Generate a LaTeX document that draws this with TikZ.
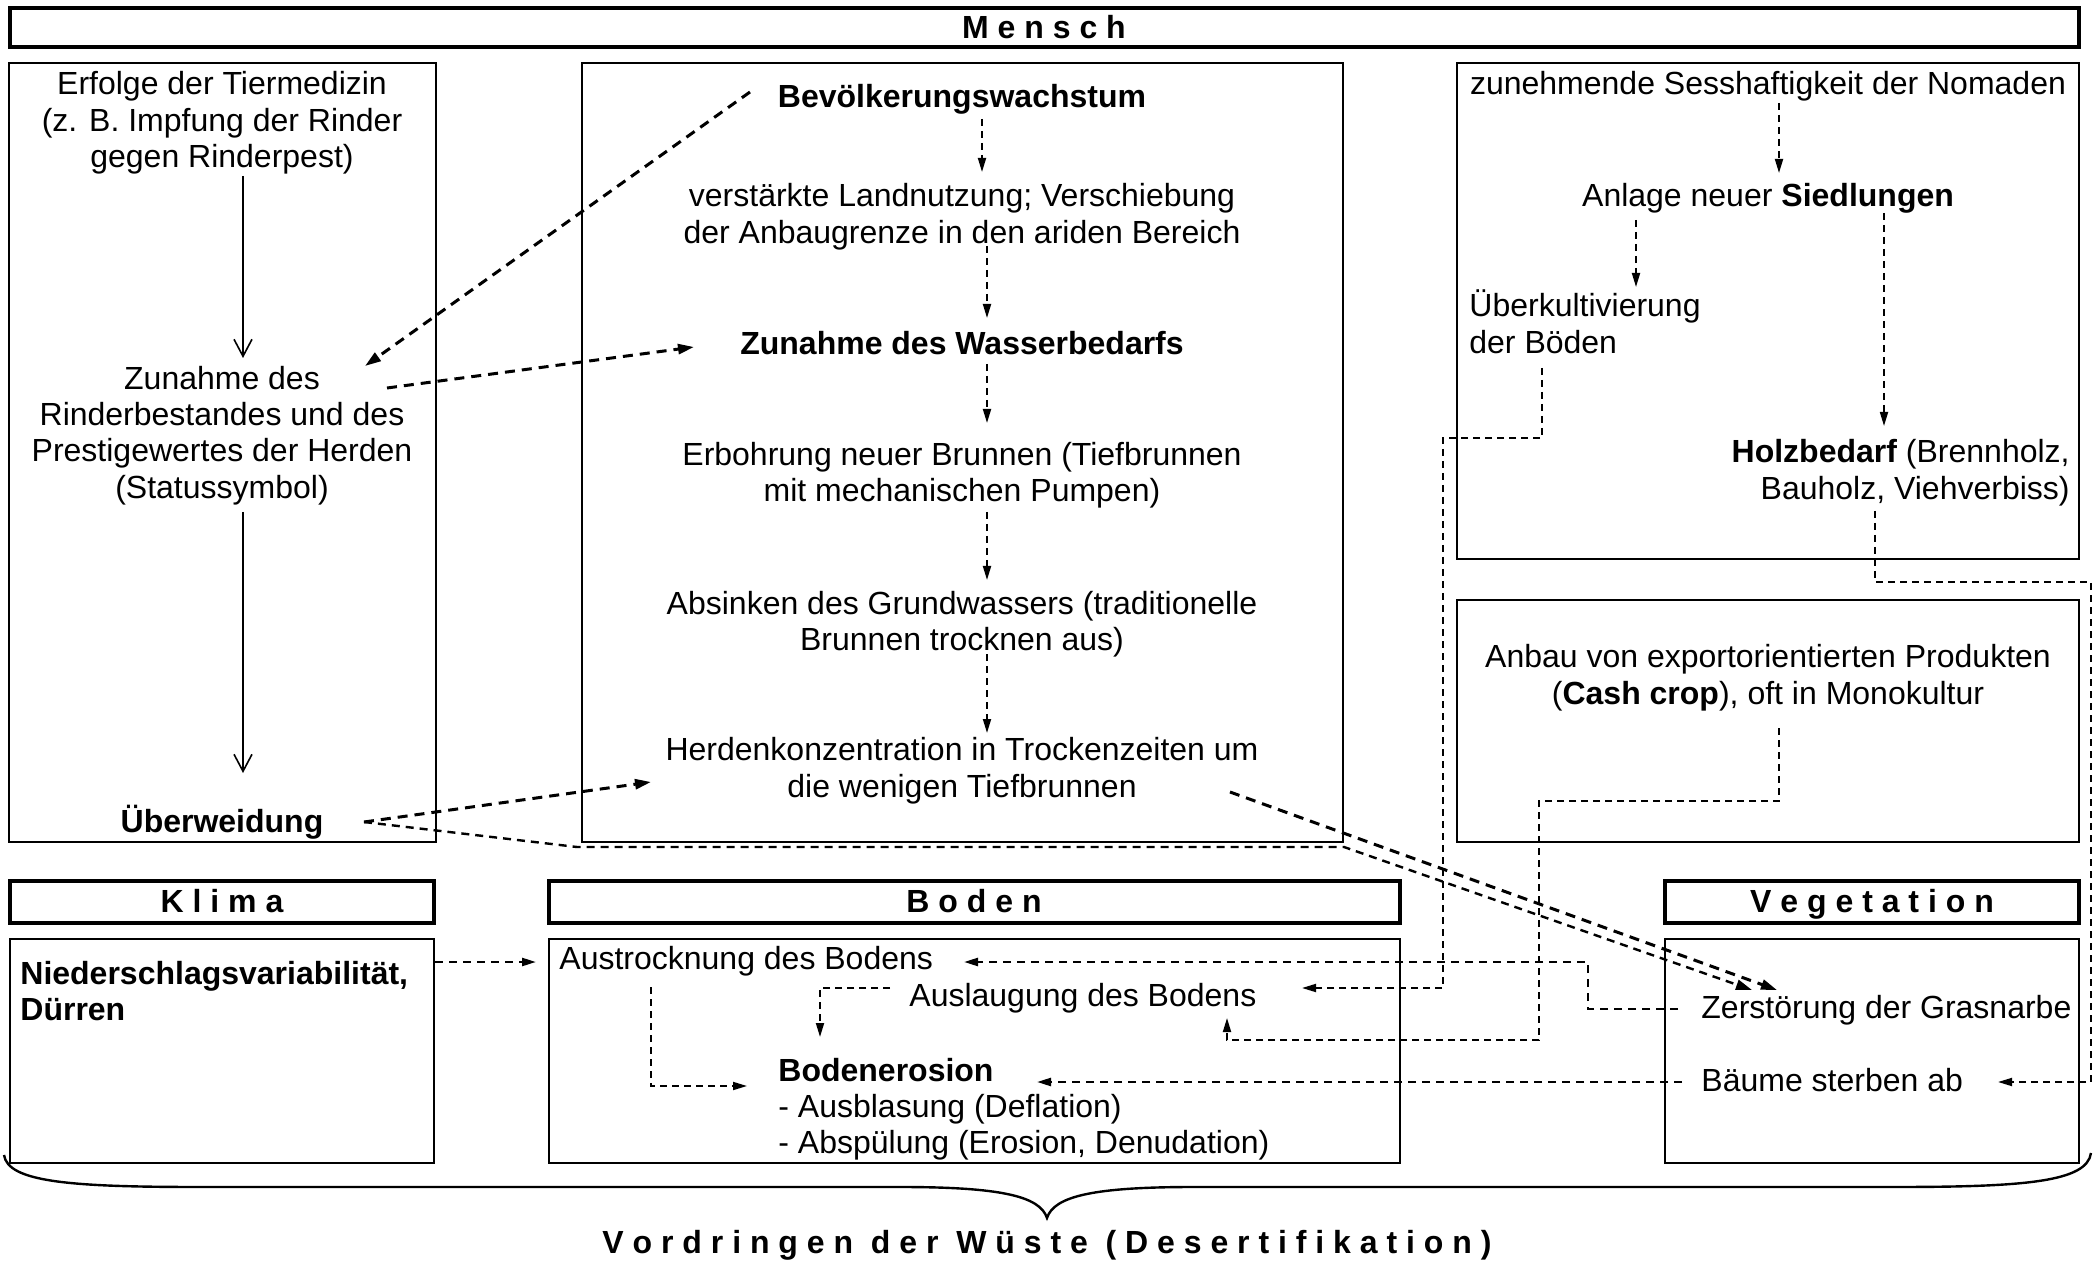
\documentclass[tikz,border=0pt]{standalone}
\usepackage{fontspec}
\setmainfont{Liberation Sans}
\usetikzlibrary{arrows.meta,fit}
\newcommand\fs{\fontsize{16pt}{18.5pt}\selectfont}
\begin{document}
\begin{tikzpicture}[x=0.5pt,y=-0.5pt,
  txt/.style={inner sep=0pt,anchor=base,font=\fs},
  txl/.style={txt,anchor=base west},
  txr/.style={txt,anchor=base east},
  hd/.style={inner sep=0pt,anchor=base,font=\fs\bfseries},
  hdrbox/.style={draw,line width=2pt,inner sep=0pt},
  cbox/.style={draw,line width=1.2pt,inner sep=0pt},
  sarr/.style={line width=0.8pt,-{Straight Barb[length=8.5pt,width=9pt,line width=0.8pt]}},
  dA/.style={line width=0.9pt,dash pattern=on 3.5pt off 2.5pt},
  dB/.style={line width=1.2pt,dash pattern=on 4pt off 3pt},
  dC/.style={line width=1.5pt,dash pattern=on 5pt off 3.5pt},
  tS/.style={-{Triangle[length=7pt,width=4pt]}},
  tB/.style={-{Triangle[length=8pt,width=5pt]}},
  brace/.style={line width=1.2pt}
]
\useasboundingbox (0,0) rectangle (2100,1262);
\fill[white] (0,0) rectangle (2100,1262);

% ---------- boxes ----------
\node[hdrbox,fit={(10,8)(2079,47)}] (hMensch) {};
\node[cbox,fit={(9,63)(436,842)}] (bLeft) {};
\node[cbox,fit={(582,63)(1343,842)}] (bMid) {};
\node[cbox,fit={(1457,63)(2079,559)}] (bRight) {};
\node[cbox,fit={(1457,600)(2079,842)}] (bCash) {};
\node[hdrbox,fit={(10,881)(434,923)}] (hKlima) {};
\node[hdrbox,fit={(549,881)(1400,923)}] (hBoden) {};
\node[hdrbox,fit={(1665,881)(2079,923)}] (hVeg) {};
\node[cbox,fit={(10,939)(434,1163)}] (bKlima) {};
\node[cbox,fit={(549,939)(1400,1163)}] (bBoden) {};
\node[cbox,fit={(1665,939)(2079,1163)}] (bVeg) {};

% ---------- header texts ----------
\node[hd] (tMensch) at (1044,39) {M e n s c h};
\node[hd] (tKlima) at (222,912) {K l i m a};
\node[hd] (tBoden) at (974,912) {B o d e n};
\node[hd] (tVeg) at (1872,912) {V e g e t a t i o n};
\node[hd] (tWueste) at (1047,1253) {V o r d r i n g e n\ \ d e r\ \ W ü s t e\ \ ( D e s e r t i f i k a t i o n )};

% ---------- left column ----------
\node[txt] (erf1) at (222,95) {Erfolge der Tiermedizin};
\node[txt] (erf2) at (222,131.5) {(z. B. Impfung der Rinder};
\node[txt] (erf3) at (222,168) {gegen Rinderpest)};
\node[txt] (zun1) at (222,390) {Zunahme des};
\node[txt] (zun2) at (222,426) {Rinderbestandes und des};
\node[txt] (zun3) at (222,462) {Prestigewertes der Herden};
\node[txt] (zun4) at (222,499) {(Statussymbol)};
\node[txt] (ueb) at (222,832) {\bfseries Überweidung};

% ---------- middle column ----------
\node[txt] (bev) at (962,108) {\bfseries Bevölkerungswachstum};
\node[txt] (lan1) at (962,207) {verstärkte Landnutzung; Verschiebung};
\node[txt] (lan2) at (962,244) {der Anbaugrenze in den ariden Bereich};
\node[txt] (was) at (962,355) {\bfseries Zunahme des Wasserbedarfs};
\node[txt] (erb1) at (962,466) {Erbohrung neuer Brunnen (Tiefbrunnen};
\node[txt] (erb2) at (962,502) {mit mechanischen Pumpen)};
\node[txt] (abs1) at (962,614) {Absinken des Grundwassers (traditionelle};
\node[txt] (abs2) at (962,650) {Brunnen trocknen aus)};
\node[txt] (her1) at (962,760) {Herdenkonzentration in Trockenzeiten um};
\node[txt] (her2) at (962,797) {die wenigen Tiefbrunnen};

% ---------- right column ----------
\node[txt] (ses) at (1768,95) {zunehmende Sesshaftigkeit der Nomaden};
\node[txt] (anl) at (1768,207) {Anlage neuer \textbf{Siedlungen}};
\node[txl] (ubk1) at (1469,317) {Überkultivierung};
\node[txl] (ubk2) at (1469,354) {der Böden};
\node[txr] (holz1) at (2070,463) {\textbf{Holzbedarf} (Brennholz,};
\node[txr] (holz2) at (2070,500) {Bauholz, Viehverbiss)};
\node[txt] (cash1) at (1768,667) {Anbau von exportorientierten Produkten};
\node[txt] (cash2) at (1768,704) {(\textbf{Cash crop}), oft in Monokultur};

% ---------- bottom row ----------
\node[txl] (nied1) at (20,984) {\bfseries Niederschlagsvariabilität,};
\node[txl] (nied2) at (20,1020) {\bfseries Dürren};
\node[txl] (aus) at (559,969) {Austrocknung des Bodens};
\node[txl] (lau) at (909,1006) {Auslaugung des Bodens};
\node[txl] (ero) at (778,1081) {\bfseries Bodenerosion};
\node[txl] (ero2) at (778,1117) {- Ausblasung (Deflation)};
\node[txl] (ero3) at (778,1153) {- Abspülung (Erosion, Denudation)};
\node[txl] (zer) at (1701,1018) {Zerstörung der Grasnarbe};
\node[txl] (bae) at (1701,1091) {Bäume sterben ab};

% ---------- connector end points ----------
\coordinate (s1a) at (243,176);  \coordinate (s1b) at (243,358);
\coordinate (s2a) at (243,512);  \coordinate (s2b) at (243,773);
\coordinate (bevL) at (750,92);  \coordinate (zunT) at (365,366);
\coordinate (zunR) at (387,388); \coordinate (wasL) at (694,347);
\coordinate (m1a) at (982,119);  \coordinate (m1b) at (982,172);
\coordinate (m2a) at (987,246);  \coordinate (m2b) at (987,318);
\coordinate (m3a) at (987,364);  \coordinate (m3b) at (987,423);
\coordinate (m4a) at (987,512);  \coordinate (m4b) at (987,580);
\coordinate (m5a) at (987,654);  \coordinate (m5b) at (987,733);
\coordinate (uebR) at (364,822); \coordinate (herL) at (651,782);
\coordinate (u1) at (577,847);   \coordinate (u2) at (1344,847);
\coordinate (zerT1) at (1752,990);
\coordinate (herR) at (1230,792); \coordinate (zerT2) at (1777,990);
\coordinate (r1a) at (1779,103); \coordinate (r1b) at (1779,173);
\coordinate (r2a) at (1636,220); \coordinate (r2b) at (1636,287);
\coordinate (r3a) at (1884,213); \coordinate (r3b) at (1884,426);
\coordinate (bo1) at (1542,368); \coordinate (bo2) at (1542,438);
\coordinate (bo3) at (1443,438); \coordinate (bo4) at (1443,988);
\coordinate (lauR) at (1302,988);
\coordinate (ho1) at (1875,511); \coordinate (ho2) at (1875,582);
\coordinate (ho3) at (2091,582); \coordinate (ho4) at (2091,1082);
\coordinate (baeR) at (1998,1082);
\coordinate (ca1) at (1779,728); \coordinate (ca2) at (1779,801);
\coordinate (ca3) at (1539,801); \coordinate (ca4) at (1539,1040);
\coordinate (ca5) at (1227,1040); \coordinate (lauB) at (1227,1018);
\coordinate (klR) at (435,962);  \coordinate (ausL) at (536,962);
\coordinate (zeL) at (1678,1009); \coordinate (ze2) at (1588,1009);
\coordinate (ze3) at (1588,962); \coordinate (ausR) at (964,962);
\coordinate (baL) at (1682,1082); \coordinate (eroR) at (1037,1082);
\coordinate (la1) at (890,988);  \coordinate (la2) at (820,988);
\coordinate (eroT) at (820,1037);
\coordinate (au1) at (651,987);  \coordinate (au2) at (651,1086);
\coordinate (eroL) at (747,1086);

% ---------- connectors ----------
\draw[sarr] (s1a) -- (s1b);
\draw[sarr] (s2a) -- (s2b);
\draw[dC,tB] (bevL) -- (zunT);
\draw[dC,tB] (zunR) -- (wasL);
\draw[dA,tS] (m1a) -- (m1b);
\draw[dA,tS] (m2a) -- (m2b);
\draw[dA,tS] (m3a) -- (m3b);
\draw[dA,tS] (m4a) -- (m4b);
\draw[dA,tS] (m5a) -- (m5b);
\draw[dC,tB] (uebR) -- (herL);
\draw[dB,tB] (uebR) -- (u1) -- (u2) -- (zerT1);
\draw[dC,tB] (herR) -- (zerT2);
\draw[dA,tS] (r1a) -- (r1b);
\draw[dA,tS] (r2a) -- (r2b);
\draw[dA,tS] (r3a) -- (r3b);
\draw[dA,tS] (bo1) -- (bo2) -- (bo3) -- (bo4) -- (lauR);
\draw[dA,tS] (ho1) -- (ho2) -- (ho3) -- (ho4) -- (baeR);
\draw[dA,tS] (ca1) -- (ca2) -- (ca3) -- (ca4) -- (ca5) -- (lauB);
\draw[dB,tS] (klR) -- (ausL);
\draw[dB,tS] (zeL) -- (ze2) -- (ze3) -- (ausR);
\draw[dB,tS] (baL) -- (eroR);
\draw[dA,tS] (la1) -- (la2) -- (eroT);
\draw[dA,tS] (au1) -- (au2) -- (eroL);

% ---------- brace ----------
\draw[brace] (4,1155) .. controls (8,1182) and (70,1187) .. (200,1187)
  -- (900,1187) .. controls (1000,1187) and (1040,1196) .. (1047,1218)
  .. controls (1054,1196) and (1094,1187) .. (1194,1187)
  -- (1894,1187) .. controls (2024,1187) and (2087,1182) .. (2091,1153);
\end{tikzpicture}
\end{document}
